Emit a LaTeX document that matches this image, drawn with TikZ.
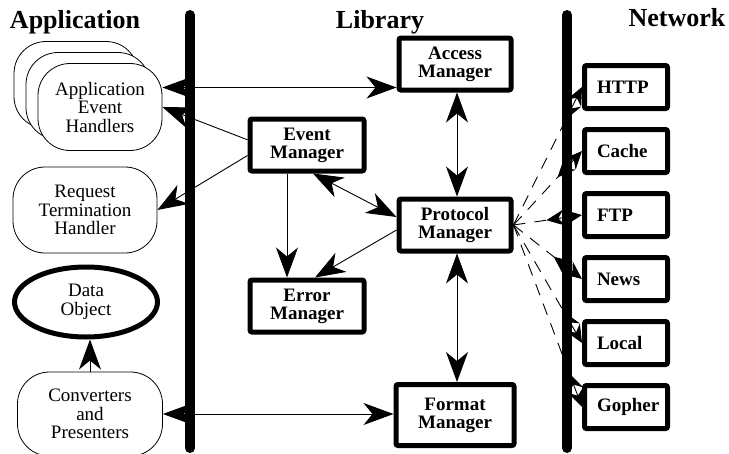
\documentclass[tikz,border=0pt]{standalone}
\usepackage{fontspec}
\setmainfont{Liberation Serif}
\usetikzlibrary{arrows.meta,positioning,shapes.geometric,calc}

\begin{document}
\begin{tikzpicture}[
                x=1pt, y=-1pt,
                on grid,
                node distance=64pt,
                >={Stealth[length=30pt,width=22pt,inset=9pt]},
                mgr/.style={draw, line width=5pt, rounded corners=2pt,
                    font=\bfseries\fontsize{19}{18}\selectfont, align=center,
                    minimum width=112pt, minimum height=52pt, inner sep=0pt},
                proto/.style={draw, line width=5pt, rounded corners=2pt,
                    font=\bfseries\fontsize{19}{18}\selectfont, align=left,
                    text width=58pt, inner xsep=12.5pt,
                    minimum width=83pt, minimum height=43pt},
                handler/.style={draw, fill=white, line width=0.8pt, rounded corners=32pt,
                    font=\fontsize{19}{18.5}\selectfont, align=center,
                    minimum width=124pt, minimum height=87pt, inner sep=0pt},
                title/.style={font=\bfseries\fontsize{26}{26}\selectfont, anchor=base},
                bus/.style={line width=10pt, line cap=round},
                link/.style={line width=0.9pt},
                netlink/.style={line width=0.9pt, dash pattern=on 12pt off 9pt},
                nettip/.style={line width=0.9pt,
                    {Stealth[length=18pt,width=16pt,inset=6pt]}-{Stealth[length=18pt,width=16pt,inset=6pt]}}]
            \useasboundingbox (0,0) rectangle (729,453);
            \node[title] (t_app) at (75,28) {Application};
            \node[title] (t_lib) at (380,28) {Library};
            \node[title] (t_net) at (677,26) {Network};
            \draw[bus] (190,15) -- (190,448);
            \draw[bus] (567,15) -- (567,448);
            \node[handler] (app_h_3) at (76,85) {};
            \node[handler] (app_h_2) at (88,96) {};
            \node[handler] (app_h) at (100,107) {Application\\Event\\Handlers};
            \node[handler, minimum width=144pt, minimum height=86pt] (req_h) at (85,210) {Request\\Termination\\Handler};
            \node[draw, ellipse, line width=5pt, minimum width=143pt, minimum height=70pt,
                font=\fontsize{19}{18.5}\selectfont, align=center] (data_obj) at (86,302) {Data\\Object};
            \node[handler, minimum width=145pt, minimum height=84pt] (conv) at (90,414) {Converters\\and\\Presenters};
            \node[mgr] (prot_mgr) at (455,225) {Protocol\\Manager};
            \node[mgr] (acc_mgr) [above=161pt of prot_mgr] {Access\\Manager};
            \node[mgr, minimum width=118pt, minimum height=61pt] (fmt_mgr) [below=190pt of prot_mgr] {Format\\Manager};
            \node[mgr, minimum width=114pt] (evt_mgr) at (307,145) {Event\\Manager};
            \node[mgr, minimum width=114pt] (err_mgr) [below=161pt of evt_mgr] {Error\\Manager};
            \node[proto] (http) at (626,87) {HTTP};
            \node[proto] (cache) [below=of http] {Cache};
            \node[proto] (ftp) [below=of cache] {FTP};
            \node[proto] (news) [below=of ftp] {News};
            \node[proto] (local) [below=of news] {Local};
            \node[proto] (gopher) [below=of local] {Gopher};
            \coordinate (acc_in) at ([yshift=5pt]acc_mgr.south west);
            \path[<->, link]
            (app_h.east |- acc_in) edge (acc_in)
            ([xshift=6pt]evt_mgr.south) edge ([yshift=8pt]prot_mgr.west)
            ([xshift=2pt]acc_mgr.south) edge ([xshift=2pt]prot_mgr.north)
            ([xshift=2pt]prot_mgr.south) edge ([xshift=2pt]prot_mgr.south |- fmt_mgr.north)
            (conv.east) edge (conv.east -| fmt_mgr.west)
            ;
            \path[->, link]
            (evt_mgr.175) edge (app_h.east)
            (evt_mgr.190) edge (req_h.east)
            ([xshift=-20pt]evt_mgr.south) edge ([xshift=-20pt]err_mgr.north)
            ([yshift=-5pt]prot_mgr.west) edge ([xshift=8pt]err_mgr.north)
            (conv.north) edge (conv.north |- data_obj.south)
            ;
            \foreach \n in {http,cache,ftp,news,local,gopher}{
                \draw[netlink] (prot_mgr.east) -- ($(\n.west)!30pt!(prot_mgr.east)$);
                \draw[nettip] ($(\n.west)!36pt!(prot_mgr.east)$) -- (\n.west);
            }
        \end{tikzpicture}
\end{document}
